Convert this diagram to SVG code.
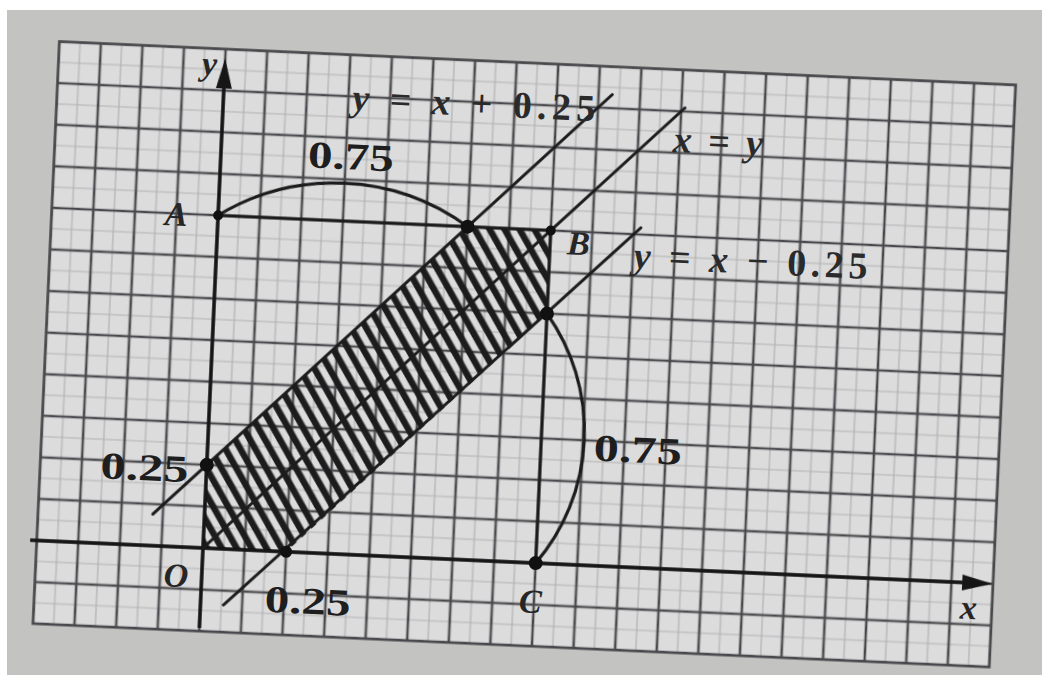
<svg xmlns="http://www.w3.org/2000/svg" width="1048" height="681" viewBox="0 0 1048 681">
<style>
.ax{stroke:#161616;stroke-width:3.4;fill:none}
.ln{stroke:#1b1b1b;stroke-width:3;fill:none;stroke-linecap:round}
.arc{stroke:#1b1b1b;stroke-width:3.2;fill:none}
.num{font-family:"Liberation Serif",serif;font-weight:bold;font-size:38px;fill:#1e1e1e}
.let{font-family:"Liberation Serif",serif;font-style:italic;font-weight:bold;font-size:34px;fill:#262626}
.eq{font-family:"Liberation Serif",serif;font-weight:bold;font-size:38px;fill:#2a2a2a}
.it{font-style:italic}
.dot{fill:#111}
</style>
<defs>
<pattern id="grid" patternUnits="userSpaceOnUse" x="-20.8125" y="-20.8125" width="41.625" height="41.625">
<rect width="41.625" height="41.625" fill="#dcdcdd"/>
<path d="M0 0V41.625M41.625 0V41.625M0 0H41.625M0 41.625H41.625" stroke="#b0b0b2" stroke-width="1.2"/>
<path d="M20.8125 0V41.625M0 20.8125H41.625" stroke="#4a4a4d" stroke-width="2.6"/>
</pattern>
<pattern id="hatch" patternUnits="userSpaceOnUse" width="13" height="13" patternTransform="rotate(-32)">
<rect x="0" y="0" width="6.5" height="13" fill="#1c1c1c"/>
</pattern>
<filter id="soft" x="-5%" y="-5%" width="110%" height="110%"><feGaussianBlur stdDeviation="0.7"/></filter>
</defs>
<rect width="1048" height="681" fill="#ffffff"/>
<rect x="7" y="10" width="1035" height="665" fill="#c3c3c1"/>
<g transform="translate(203,548) rotate(2.6)">
<g id="grid-paper" filter="url(#soft)">
<rect x="-166.5" y="-499.5" width="957.4" height="582.75" fill="url(#grid)" stroke="#4a4a4d" stroke-width="2.6"/>
</g>
<g id="region" filter="url(#soft)">
<polygon points="0,0 83.25,0 333,-249.75 333,-333 249.75,-333 0,-83.25" fill="url(#hatch)"/>
</g>
<g id="connectors" filter="url(#soft)">
<line class="ax" x1="-173" y1="0" x2="765" y2="0"/>
<polygon points="790,0 760,-8 760,8" fill="#161616"/>
<line class="ax" x1="0" y1="80" x2="0" y2="-465"/>
<polygon points="0,-490 -8,-460 8,-460" fill="#161616"/>
<line class="ln" x1="-51.6" y1="-31.6" x2="388.3" y2="-471.5"/>
<line class="ln" x1="0" y1="0" x2="461.5" y2="-461.5"/>
<line class="ln" x1="23" y1="56" x2="422.9" y2="-339.7"/>
<line class="ln" x1="0" y1="-333" x2="333" y2="-333"/>
<line class="ln" x1="333" y1="-333" x2="333" y2="0"/>
<path class="arc" d="M0,-333 A225,225 0 0 1 249.75,-333"/>
<path class="arc" d="M333,0 A203,203 0 0 0 333,-249.75"/>
</g>
<g id="points">
<circle class="dot" cx="0" cy="-333" r="5"/>
<circle class="dot" cx="249.75" cy="-333" r="7"/>
<circle class="dot" cx="333" cy="-333" r="5"/>
<circle class="dot" cx="333" cy="-249.75" r="7"/>
<circle class="dot" cx="333" cy="0" r="7"/>
<circle class="dot" cx="0" cy="-83.25" r="7"/>
<circle class="dot" cx="83.25" cy="0" r="6"/>
</g>
<g id="labels">
<text class="let" x="-23" y="-473">y</text>
<text class="let" x="759" y="36">x</text>
<text class="let" x="-38" y="40">O</text>
<text class="let" x="-53" y="-321">A</text>
<text class="let" x="350" y="-310">B</text>
<text class="let" x="318" y="50">C</text>
<text class="num" x="87" y="-385" textLength="86" lengthAdjust="spacingAndGlyphs">0.75</text>
<text class="num" x="386" y="-105" textLength="88" lengthAdjust="spacingAndGlyphs">0.75</text>
<text class="num" x="-106" y="-65" textLength="88" lengthAdjust="spacingAndGlyphs">0.25</text>
<text class="num" x="64" y="61" textLength="86" lengthAdjust="spacingAndGlyphs">0.25</text>
<text class="eq" x="129" y="-444" textLength="243" lengthAdjust="spacing"><tspan class="it">y</tspan> = <tspan class="it">x</tspan> + 0.25</text>
<text class="eq" x="451" y="-417" textLength="90" lengthAdjust="spacing"><tspan class="it">x</tspan> = <tspan class="it">y</tspan></text>
<text class="eq" x="417" y="-299" textLength="234" lengthAdjust="spacing"><tspan class="it">y</tspan> = <tspan class="it">x</tspan> − 0.25</text>
</g>
</g>
</svg>
